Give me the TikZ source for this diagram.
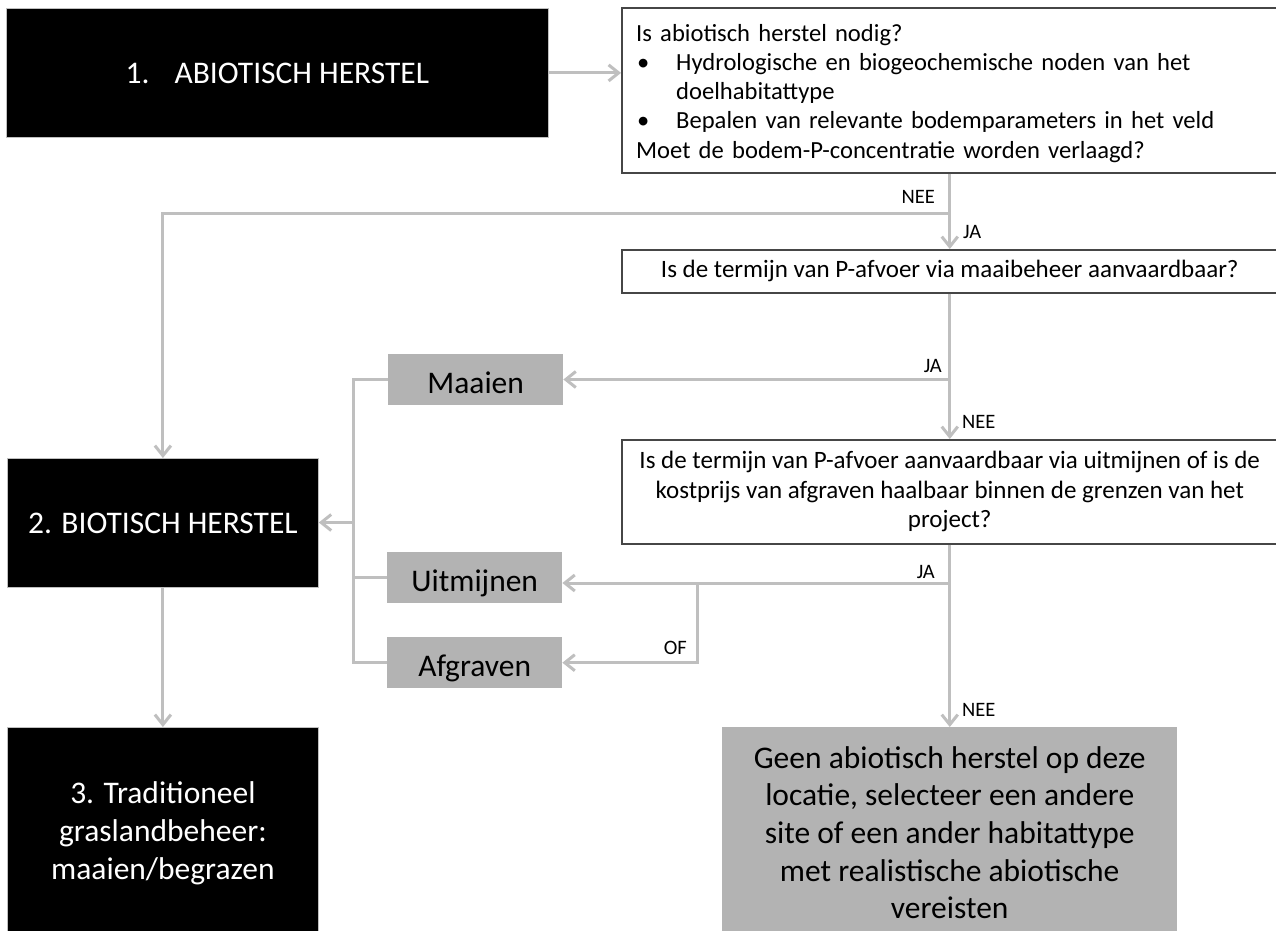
\documentclass[tikz,border=0pt]{standalone}
\usepackage{fontspec}
\setmainfont{Carlito}
\usetikzlibrary{arrows.meta}
\definecolor{lineg}{RGB}{191,191,191}
\definecolor{boxg}{RGB}{179,179,179}
\definecolor{bord}{RGB}{70,70,70}
\begin{document}
\begin{tikzpicture}[x=1pt,y=-1pt,
  line/.style={draw=lineg, line width=3pt},
  arr/.style={line, -{Straight Barb[length=10pt,width=16pt]}},
  blackbox/.style={fill=black, draw=black!25, line width=0.8pt, text=white, inner sep=0pt, anchor=north west, font=\fontsize{31.5}{38}\selectfont, align=center},
  graybox/.style={fill=boxg, inner sep=0pt, anchor=north west, font=\fontsize{31.5}{37.7}\selectfont, align=center},
  qbox/.style={fill=white, draw=bord, line width=1.5pt, inner sep=0pt, anchor=north west, font=\fontsize{25}{29.6}\selectfont, align=center},
  lbl/.style={inner sep=0pt, font=\fontsize{20.5}{24}\selectfont},
]
\useasboundingbox (0,0) rectangle (1276,930);
\fill[white] (0,0) rectangle (1276,930);
\clip (0,0) rectangle (1276,930);

% boxes
\node[blackbox, minimum width=542pt, minimum height=129pt] (b1) at (6,8) {1.\hspace{25pt}ABIOTISCH HERSTEL};
\node[qbox, minimum width=656pt, minimum height=165pt] (q1) at (621,7) {};
\node[anchor=base west, inner sep=0pt, text width=630pt, align=left, font=\fontsize{24.6}{29.3}\selectfont] (q1t) at (636,41)
  {Is abiotisch herstel nodig?\\
   \hspace*{1pt}\makebox[39pt][l]{•}Hydrologische en biogeochemische noden van het\\
   \hspace*{40pt}doelhabitattype\\
   \hspace*{1pt}\makebox[39pt][l]{•}Bepalen van relevante bodemparameters in het veld\\
   Moet de bodem-P-concentratie worden verlaagd?};
\node[qbox, minimum width=656pt, minimum height=43pt] (q2) at (621,249) {Is de termijn van P-afvoer via maaibeheer aanvaardbaar?};
\node[qbox, minimum width=656pt, minimum height=104pt] (q3) at (621,439)
  {Is de termijn van P-afvoer aanvaardbaar via uitmijnen of is de\\kostprijs van afgraven haalbaar binnen de grenzen van het\\project?};
\node[graybox, minimum width=175pt, minimum height=51pt, text height=27pt, text depth=0pt] (maa) at (388,354) {Maaien};
\node[graybox, minimum width=175pt, minimum height=51pt, text height=27pt, text depth=0pt] (uit) at (387,552) {Uitmijnen};
\node[graybox, minimum width=175pt, minimum height=51pt, text height=27pt, text depth=0pt] (afg) at (387,637) {Afgraven};
\node[blackbox, minimum width=311pt, minimum height=129pt] (b2) at (7,458) {2. BIOTISCH HERSTEL};
\node[blackbox, minimum width=311pt, minimum height=212pt] (b3) at (7,727) {3. Traditioneel\\graslandbeheer:\\maaien/begrazen};
\node[graybox, minimum width=455pt, minimum height=211pt] (geen) at (722,727)
  {Geen abiotisch herstel op deze\\locatie, selecteer een andere\\site of een ander habitattype\\met realistische abiotische\\vereisten};

% junctions
\coordinate (j1) at (949,213);
\coordinate (j2) at (949,379.5);
\coordinate (j3) at (949,583);
\coordinate (j4) at (697,583);
\coordinate (br) at (353,522.5);

% connectors
\draw[arr] (b1.east) -- (b1.east -| q1.west);
\draw[arr] (q1.south) -- (q2.north);
\draw[arr] (j1) -| (b2.north);
\draw[arr] (q2.south) -- (q3.north);
\draw[arr] (j2) -- (j2 -| maa.east);
\draw[arr] (q3.south) -- (q3.south |- geen.north);
\draw[arr] (j3) -- (j3 -| uit.east);
\draw[arr] (j4) |- (afg.east);
\draw[line] (maa.west) -| (br |- afg.west) -- (afg.west);
\draw[line] (uit.west) -- (uit.west -| br);
\draw[arr] (br) -- (br -| b2.east);
\draw[arr] (b2.south) -- (b3.north);

% labels
\node[lbl, anchor=east] (l1) at (935,197) {NEE};
\node[lbl, anchor=west] (l2) at (963,232) {JA};
\node[lbl, anchor=east] (l3) at (942,366) {JA};
\node[lbl, anchor=west] (l4) at (962,422) {NEE};
\node[lbl, anchor=east] (l5) at (935,572) {JA};
\node[lbl, anchor=east] (l6) at (687,648) {OF};
\node[lbl, anchor=west] (l7) at (962,710) {NEE};
\end{tikzpicture}
\end{document}
